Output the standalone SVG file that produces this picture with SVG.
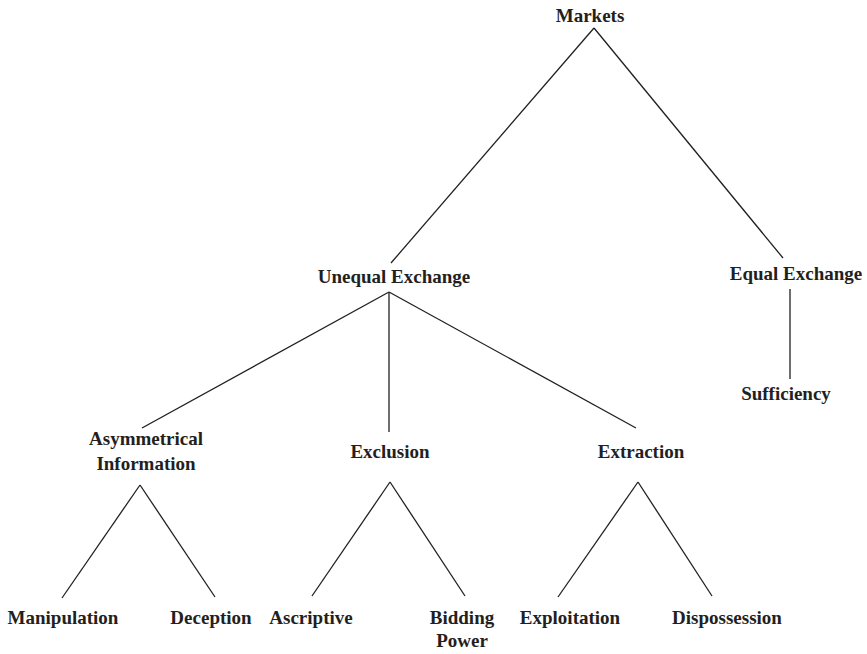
<svg xmlns="http://www.w3.org/2000/svg" width="867" height="654" viewBox="0 0 867 654">
<style>
text{font-family:"Liberation Serif","Times New Roman",serif;font-weight:bold;font-size:19px;fill:#231f20;text-anchor:middle}
.c line{stroke:#231f20;stroke-width:1.3;fill:none}
</style>
<rect width="867" height="654" fill="#ffffff"/>
<g class="c" id="connectors">
<line x1="594" y1="28" x2="391" y2="263"/>
<line x1="594" y1="28" x2="783" y2="258"/>
<line x1="790" y1="289" x2="790" y2="379"/>
<line x1="389" y1="292" x2="142" y2="428"/>
<line x1="389" y1="292" x2="389" y2="432"/>
<line x1="389" y1="292" x2="636" y2="428"/>
<line x1="140" y1="485" x2="62" y2="598"/>
<line x1="140" y1="485" x2="215" y2="597"/>
<line x1="390" y1="482" x2="312" y2="596"/>
<line x1="390" y1="482" x2="465" y2="596"/>
<line x1="638" y1="482" x2="558" y2="597"/>
<line x1="638" y1="482" x2="712" y2="596"/>
</g>
<g id="markets"><text x="590" y="22">Markets</text></g>
<g id="unequal"><text x="394" y="283">Unequal Exchange</text></g>
<g id="equal"><text x="796" y="280">Equal Exchange</text></g>
<g id="sufficiency"><text x="786" y="400">Sufficiency</text></g>
<g id="asymmetrical"><text x="146" y="445">Asymmetrical</text><text x="146" y="470">Information</text></g>
<g id="exclusion"><text x="390" y="458">Exclusion</text></g>
<g id="extraction"><text x="641" y="458">Extraction</text></g>
<g id="manipulation"><text x="63" y="624">Manipulation</text></g>
<g id="deception"><text x="211" y="624">Deception</text></g>
<g id="ascriptive"><text x="311" y="624">Ascriptive</text></g>
<g id="bidding"><text x="462" y="624">Bidding</text><text x="462" y="647">Power</text></g>
<g id="exploitation"><text x="570" y="624">Exploitation</text></g>
<g id="dispossession"><text x="727" y="624">Dispossession</text></g>
</svg>
